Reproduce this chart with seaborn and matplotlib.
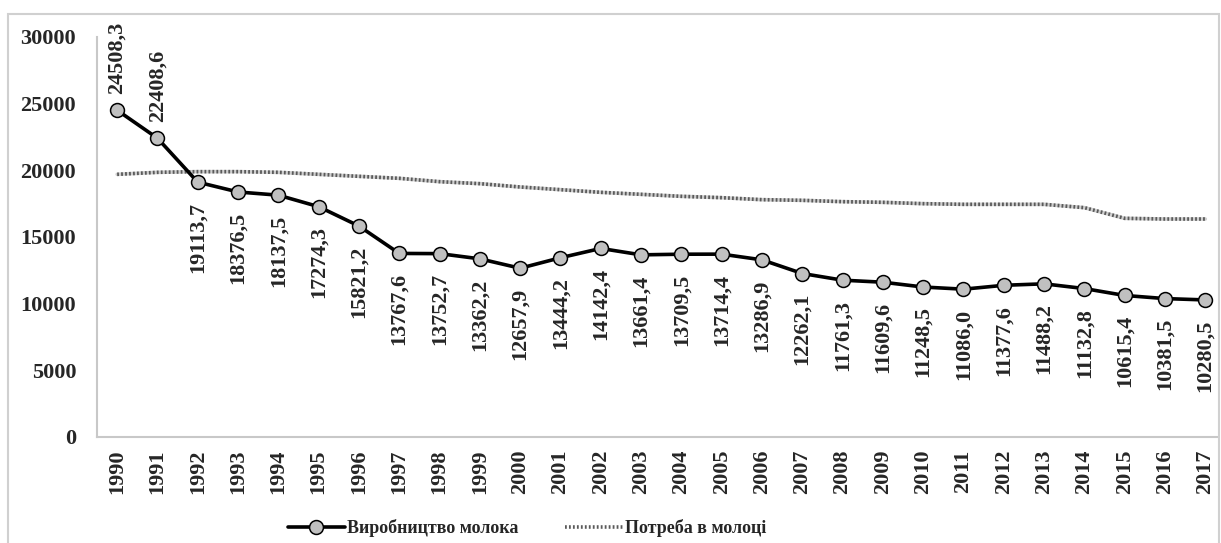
import matplotlib
matplotlib.use('Agg')
import matplotlib.pyplot as plt
import seaborn as sns
import pandas as pd
from matplotlib.patches import Rectangle

# Дані
years = ['1990', '1991', '1992', '1993', '1994', '1995', '1996', '1997', '1998', '1999',
         '2000', '2001', '2002', '2003', '2004', '2005', '2006', '2007', '2008', '2009',
         '2010', '2011', '2012', '2013', '2014', '2015', '2016', '2017']
production = [24508.3, 22408.6, 19113.7, 18376.5, 18137.5, 17274.3, 15821.2, 13767.6,
              13752.7, 13362.2, 12657.9, 13444.2, 14142.4, 13661.4, 13709.5, 13714.4,
              13286.9, 12262.1, 11761.3, 11609.6, 11248.5, 11086.0, 11377.6, 11488.2,
              11132.8, 10615.4, 10381.5, 10280.5]
consumption = [19700, 19850, 19900, 19900, 19850, 19700, 19550, 19400, 19150, 19000,
               18750, 18550, 18350, 18200, 18050, 17950, 17800, 17750, 17650, 17600,
               17500, 17450, 17450, 17450, 17200, 16400, 16350, 16350]
y_ticks = [0, 5000, 10000, 15000, 20000, 25000, 30000]
label_prod = 'Виробництво молока'
label_need = 'Потреба в молоці'

df = pd.DataFrame({'pos': list(range(len(years))), 'prod': production, 'need': consumption})

sns.set_style('white')
plt.rcParams['font.family'] = ['Liberation Serif', 'DejaVu Serif']

W, H = 1221, 543
fig = plt.figure(figsize=(W / 100, H / 100), dpi=100)
ax = fig.add_axes([97 / W, 1 - 437 / H, (1217 - 97) / W, 400 / H])

# Потреба - лінія з візерунком
sns.lineplot(data=df, x='pos', y='need', ax=ax, color='#cfcfcf', lw=2.6, label='_nolegend_')
sns.lineplot(data=df, x='pos', y='need', ax=ax, color='#5a5a5a', lw=2.6,
             linestyle=(0, (0.5, 0.6)), label=label_need)
# Виробництво
sns.lineplot(data=df, x='pos', y='prod', ax=ax, color='black', lw=2.6, marker='o',
             markersize=10, markerfacecolor='#c0c0c0', markeredgecolor='black',
             markeredgewidth=1.1, label=label_prod)

ax.set_xlim(-0.5, 27.29)
ax.set_ylim(0, 30000)
ax.set_yticks(y_ticks)
ax.set_yticklabels([str(v) for v in y_ticks], fontweight='bold', fontsize=16)
ax.set_xticks(df['pos'])
ax.set_xticklabels(years, rotation=90, fontweight='bold', fontsize=16)
ax.tick_params(axis='y', length=0, pad=15)
ax.tick_params(axis='x', length=0, pad=9)
ax.set_xlabel('')
ax.set_ylabel('')
for s in ['top', 'right']:
    ax.spines[s].set_visible(False)
for s in ['left', 'bottom']:
    ax.spines[s].set_color('#c8c8c8')
    ax.spines[s].set_linewidth(1.5)

# Підписи значень
for i, v in enumerate(production):
    txt = f'{v:.1f}'.replace('.', ',')
    if i < 2:
        ax.annotate(txt, (i, v), xytext=(0, 12), textcoords='offset points', rotation=90,
                    ha='center', va='bottom', fontsize=16, fontweight='bold')
    else:
        ax.annotate(txt, (i, v), xytext=(0, -14), textcoords='offset points', rotation=90,
                    ha='center', va='top', fontsize=16, fontweight='bold')

# Легенда
h, l = ax.get_legend_handles_labels()
order = [l.index(label_prod), l.index(label_need)]
ax.get_legend().remove()
fig.legend([h[k] for k in order], [l[k] for k in order], loc='center',
           bbox_to_anchor=(527 / W, 1 - 528 / H), ncol=2, frameon=False,
           prop={'weight': 'bold', 'size': 13}, handlelength=3.2, handletextpad=0.1,
           columnspacing=2.6)

# Рамка діаграми
fig.patches.append(Rectangle((8 / W, -0.1), (1219 - 8) / W, 1.1 - 14 / H,
                             transform=fig.transFigure, fill=False,
                             edgecolor='#d0d0d0', lw=1.5, clip_on=False))

fig.savefig('out.png', dpi=100)
